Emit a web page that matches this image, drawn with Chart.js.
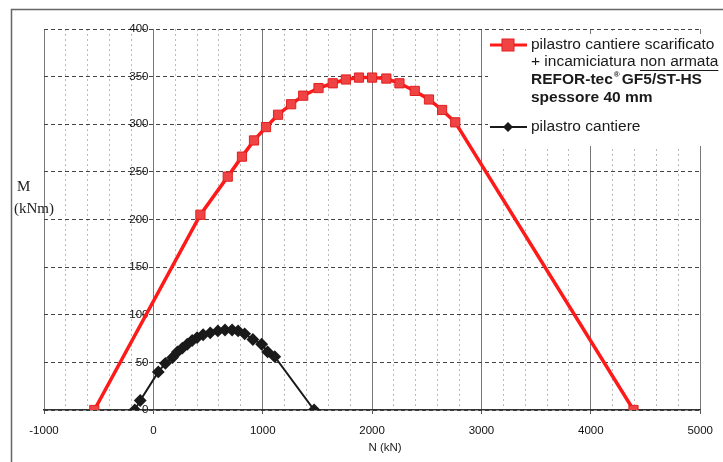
<!DOCTYPE html>
<html>
<head>
<meta charset="utf-8">
<script src="https://cdn.jsdelivr.net/npm/chart.js@4"></script>
<style>
  html, body { margin: 0; padding: 0; background: #fff; }
  #wrap { width: 723px; height: 462px; }
</style>
</head>
<body>
<div id="wrap"><canvas id="mainChart" width="723" height="462"></canvas></div>
<script>
// pilastro cantiere scarificato + incamiciatura (red, squares)
const redN = [-540, 430, 680, 810, 920, 1030, 1140, 1260, 1370, 1510, 1640, 1760, 1880, 2000, 2130, 2250, 2390, 2520, 2640, 2760, 4390];
const redM = [0, 205, 245, 266, 283, 297, 310, 321, 330, 338, 343, 347, 349, 349, 348, 343, 335, 326, 315, 302, 0];

// pilastro cantiere (black, diamonds)
const blackN = [-170, -120, 45, 110, 175, 220, 265, 310, 355, 400, 455, 520, 590, 655, 720, 775, 835, 910, 990, 1045, 1110, 1470];
const blackM = [0, 10, 40, 49, 55, 61, 65, 69, 73, 76, 79, 81, 83, 84, 84, 83, 80, 74, 69, 61, 56, 0];

const xRange = [-1000, 5000];
const yRange = [0, 400];
const xLabelStep = 1000;

const toPts = (xs, ys) => xs.map((x, i) => ({ x, y: ys[i] }));
const isMajor = ctx => ctx.tick && Math.round(ctx.tick.value) % xLabelStep === 0;

const decor = {
  id: 'decor',
  beforeDraw(chart) {
    const c = chart.ctx;
    c.save();
    c.fillStyle = '#fff';
    c.fillRect(0, 0, chart.width, chart.height);
    c.strokeStyle = '#666';
    c.lineWidth = 1.5;
    c.beginPath();
    c.moveTo(11.5, chart.height);
    c.lineTo(11.5, 9.5);
    c.lineTo(chart.width, 9.5);
    c.stroke();
    c.restore();
  },
  afterDraw(chart) {
    const c = chart.ctx;
    c.save();
    // axis titles
    c.fillStyle = '#222';
    c.font = '15px "Liberation Serif"';
    c.textBaseline = 'middle';
    c.fillText('M', 17, 187);
    c.fillText('(kNm)', 14, 209);
    c.font = '11.5px "Liberation Sans"';
    c.textAlign = 'center';
    c.fillText('N (kN)', 385, 448);
    c.textAlign = 'left';

    // legend
    c.fillStyle = '#fff';
    c.fillRect(488, 34, 235, 112);
    // red sample
    c.strokeStyle = '#ff1a1a';
    c.lineWidth = 3;
    c.beginPath(); c.moveTo(490, 45); c.lineTo(527, 45); c.stroke();
    c.fillStyle = '#f04444';
    c.strokeStyle = '#e02020';
    c.lineWidth = 1;
    c.fillRect(502, 39, 12, 12);
    c.strokeRect(502, 39, 12, 12);
    // black sample
    c.strokeStyle = '#1a1a1a';
    c.lineWidth = 2;
    c.beginPath(); c.moveTo(490, 127); c.lineTo(527, 127); c.stroke();
    c.fillStyle = '#1a1a1a';
    c.beginPath();
    c.moveTo(508, 122); c.lineTo(513, 127); c.lineTo(508, 132); c.lineTo(503, 127);
    c.closePath(); c.fill();

    c.fillStyle = '#1a1a1a';
    c.font = '15.5px "Liberation Sans"';
    c.fillText('pilastro cantiere scarificato', 531, 45);
    const pre = '+ incamiciatura ';
    c.fillText(pre, 531, 62);
    const w = c.measureText(pre).width;
    c.fillText('non armata', 531 + w, 62);
    const w2 = c.measureText('non armata').width;
    c.lineWidth = 1;
    c.strokeStyle = '#1a1a1a';
    c.beginPath(); c.moveTo(531 + w, 70.5); c.lineTo(531 + w + w2, 70.5); c.stroke();
    c.font = 'bold 15.5px "Liberation Sans"';
    const t3 = 'REFOR-tec';
    c.fillText(t3, 531, 80);
    const w3 = c.measureText(t3).width;
    c.font = 'bold 8px "Liberation Sans"';
    c.fillText('®', 531 + w3 + 1, 75);
    c.font = 'bold 15.5px "Liberation Sans"';
    c.fillText('GF5/ST-HS', 531 + w3 + 9, 80);
    c.fillText('spessore 40 mm', 531, 98);
    c.font = '15.5px "Liberation Sans"';
    c.fillText('pilastro cantiere', 531, 127);
    c.restore();
  }
};

new Chart(document.getElementById('mainChart').getContext('2d'), {
  type: 'line',
  data: {
    datasets: [
      {
        label: 'pilastro cantiere scarificato + incamiciatura non armata REFOR-tec® GF5/ST-HS spessore 40 mm',
        data: toPts(redN, redM),
        borderColor: '#ff1a1a',
        borderWidth: 3.5,
        backgroundColor: '#f04444',
        pointBorderColor: '#e02020',
        pointBorderWidth: 1,
        pointStyle: 'rect',
        pointRadius: 6.5,
        tension: 0
      },
      {
        label: 'pilastro cantiere',
        data: toPts(blackN, blackM),
        borderColor: '#1a1a1a',
        borderWidth: 2,
        backgroundColor: '#1a1a1a',
        pointBorderColor: '#1a1a1a',
        pointStyle: 'rectRot',
        pointRadius: 5,
        tension: 0
      }
    ]
  },
  options: {
    responsive: false,
    animation: false,
    layout: { padding: { left: 44, top: 29, right: 20, bottom: 22 } },
    plugins: { legend: { display: false }, tooltip: { enabled: false } },
    scales: {
      x: {
        type: 'linear',
        min: xRange[0],
        max: xRange[1],
        afterFit: s => { s.height = 30; },
        ticks: {
          stepSize: 200,
          autoSkip: false,
          maxRotation: 0,
          padding: 10,
          color: '#111',
          font: { family: 'Liberation Sans', size: 11.5 },
          callback: v => (Math.round(v) % xLabelStep === 0 ? String(v) : '')
        },
        grid: {
          color: ctx => (isMajor(ctx) ? '#777' : '#bbb'),
          lineWidth: 1,
          tickLength: 4,
          tickColor: ctx => (isMajor(ctx) ? '#555' : 'rgba(0,0,0,0)')
        },
        border: {
          display: true,
          color: '#333',
          width: 1.5,
          dash: ctx => (ctx.tick && !isMajor(ctx) ? [2, 3] : [])
        }
      },
      y: {
        type: 'linear',
        min: yRange[0],
        max: yRange[1],
        // labels sit just left of N = 0, as in the Excel original
        position: { x: -45 },
        ticks: {
          stepSize: 50,
          color: '#111',
          font: { family: 'Liberation Sans', size: 11.5 }
        },
        grid: {
          color: '#444',
          lineWidth: 1,
          drawTicks: false
        },
        border: {
          display: false,
          dash: [4, 3]
        }
      }
    }
  },
  plugins: [decor]
});
</script>
</body>
</html>
